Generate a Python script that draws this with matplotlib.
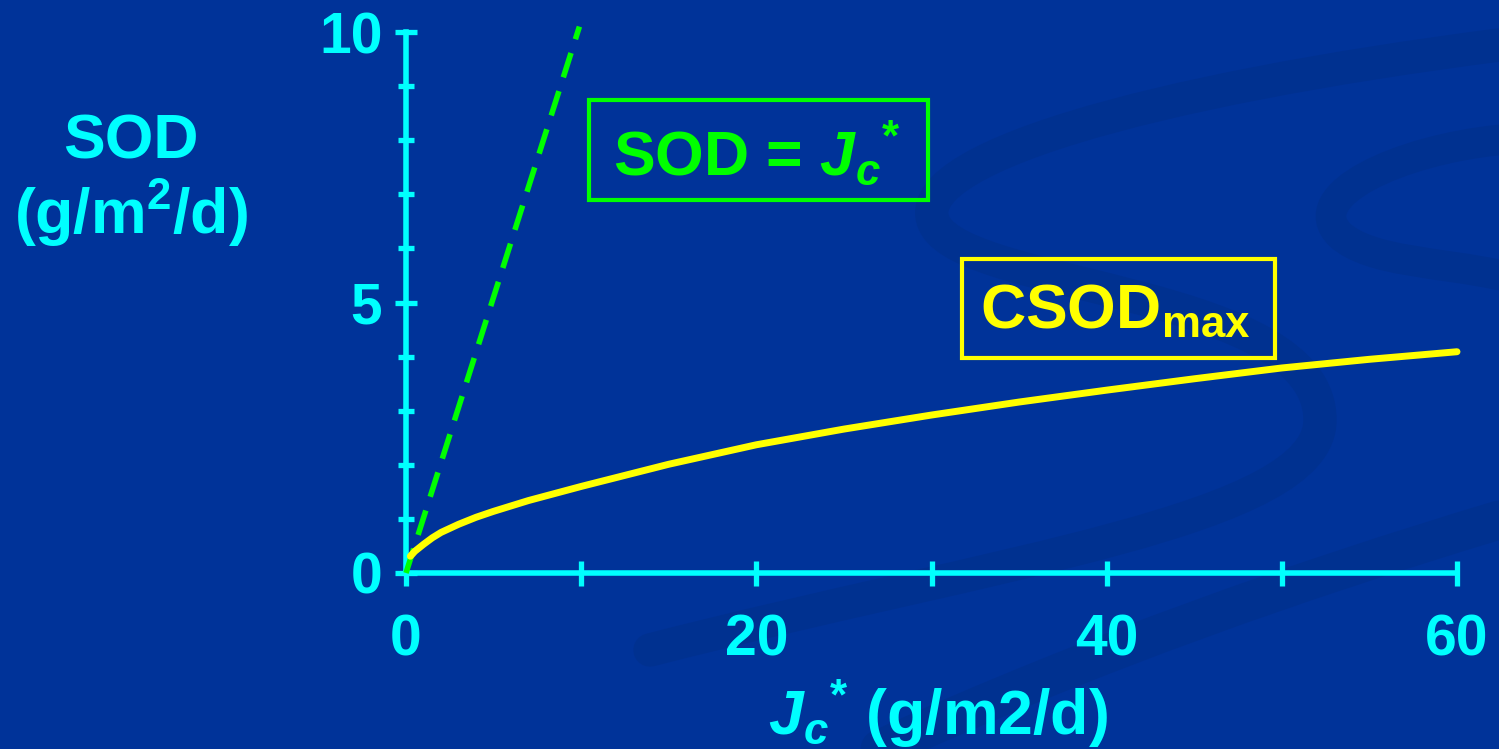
import numpy as np
import matplotlib
matplotlib.use('Agg')
import matplotlib.pyplot as plt
import matplotlib.patches as patches
from matplotlib.path import Path

plt.rcParams['font.family'] = ['Liberation Sans', 'DejaVu Sans']
plt.rcParams['font.weight'] = 'bold'
plt.rcParams['mathtext.fontset'] = 'custom'
plt.rcParams['mathtext.rm'] = 'Liberation Sans:bold'
plt.rcParams['mathtext.bf'] = 'Liberation Sans:bold'
plt.rcParams['mathtext.it'] = 'Liberation Sans:bold:italic'
plt.rcParams['mathtext.bfit'] = 'Liberation Sans:bold:italic'

# Data
jc = [0.25, 0.5, 1, 1.5, 2, 3, 4, 5, 7, 10, 15, 20, 25, 30, 35, 40, 45, 50, 55, 60]
csod_max = [0.31, 0.40, 0.53, 0.65, 0.75, 0.90, 1.03, 1.14, 1.34, 1.60, 2.01, 2.37, 2.66, 2.92,
            3.16, 3.38, 3.59, 3.79, 3.95, 4.09]
line_x = [0, 9.9]
line_y = [0, 10.1]

x_ticks = [0, 20, 40, 60]
x_minor = [10, 30, 50]
y_ticks = [0, 5, 10]
y_minor = [1, 2, 3, 4, 6, 7, 8, 9]

bg = '#003399'
swirl = '#003190'
cyan = '#00ffff'
green = '#00ff00'
yellow = '#ffff00'

W, H = 1499, 749
fig = plt.figure(figsize=(W / 100, H / 100), dpi=100, facecolor=bg)


def px(x, y):
    return (x / W, 1 - y / H)


# faint background swooshes
C4 = Path.CURVE4
swooshes = [
    ([(1499, 45), (1150, 90), (900, 160), (935, 225),
      (970, 290), (1320, 290), (1320, 420),
      (1320, 520), (1000, 560), (650, 650)],
     [Path.MOVETO] + [C4] * 9, 24),
    ([(1499, 140), (1400, 150), (1300, 195), (1340, 235),
      (1370, 262), (1440, 262), (1499, 275)],
     [Path.MOVETO] + [C4] * 6, 22),
    ([(1499, 520), (1300, 580), (1100, 650), (880, 749)],
     [Path.MOVETO, C4, C4, C4], 28),
]
for pts, codes, lw in swooshes:
    path = Path([px(*p) for p in pts], codes)
    fig.patches.append(patches.PathPatch(path, transform=fig.transFigure, fill=False,
                                         ec=swirl, lw=lw, capstyle='round', zorder=-5))

ax = fig.add_axes([406 / W, 1 - 573 / H, (1457 - 406) / W, (573 - 32) / H])
ax.patch.set_alpha(0)
ax.set_zorder(2)

ax.plot(line_x, line_y, color=green, lw=4, dashes=(4.6, 2.6), clip_on=False, zorder=3)
ax.plot(jc, csod_max, color=yellow, lw=5, solid_capstyle='round', clip_on=False, zorder=4)

ax.set_xlim(0, 60)
ax.set_ylim(0, 10)
for s in ['top', 'right']:
    ax.spines[s].set_visible(False)
for s in ['left', 'bottom']:
    ax.spines[s].set_color(cyan)
    ax.spines[s].set_linewidth(4)

ax.set_xticks(x_ticks)
ax.set_xticks(x_minor, minor=True)
ax.set_yticks(y_ticks)
ax.set_yticks(y_minor, minor=True)
ax.tick_params(which='both', direction='inout', colors=cyan, width=3.8)
ax.tick_params(axis='x', which='both', length=18, labelsize=41, pad=20)
ax.tick_params(axis='y', which='major', length=16, labelsize=41, pad=9)
ax.tick_params(axis='y', which='minor', length=12)
for lab in ax.get_xticklabels() + ax.get_yticklabels():
    lab.set_fontweight('bold')
    lab.set_color(cyan)

# y label
fig.text(131 / W, 1 - 142 / H, 'SOD', color=cyan, fontsize=45, fontweight='bold',
         ha='center', va='center')
fig.text(131 / W, 1 - 213 / H, r'(g/m$^{\mathbf{2}}$/d)', color=cyan, fontsize=45,
         fontweight='bold', ha='center', va='center')
# x label
fig.text(938 / W, 1 - 714 / H, r'$\mathbfit{J}_{\mathbfit{c}}{}^{\mathbf{*}}$ (g/m2/d)', color=cyan,
         fontsize=45, fontweight='bold', ha='center', va='center')

# boxed labels
fig.patches.append(patches.Rectangle((589 / W, 1 - 200 / H), (928 - 589) / W, (200 - 100) / H,
                                     transform=fig.transFigure, fill=False, ec=green, lw=3))
fig.text(757 / W, 1 - 154 / H, r'SOD = $\mathbfit{J}_{\mathbfit{c}}{}^{\mathbf{*}}$', color=green,
         fontsize=45, fontweight='bold', ha='center', va='center')
fig.patches.append(patches.Rectangle((962 / W, 1 - 358 / H), (1275 - 962) / W, (358 - 259) / H,
                                     transform=fig.transFigure, fill=False, ec=yellow, lw=3))
fig.text(1115 / W, 1 - 312 / H, r'CSOD$_{\mathbf{max}}$', color=yellow,
         fontsize=45, fontweight='bold', ha='center', va='center')

plt.savefig('out.png', dpi=100, facecolor=bg)
